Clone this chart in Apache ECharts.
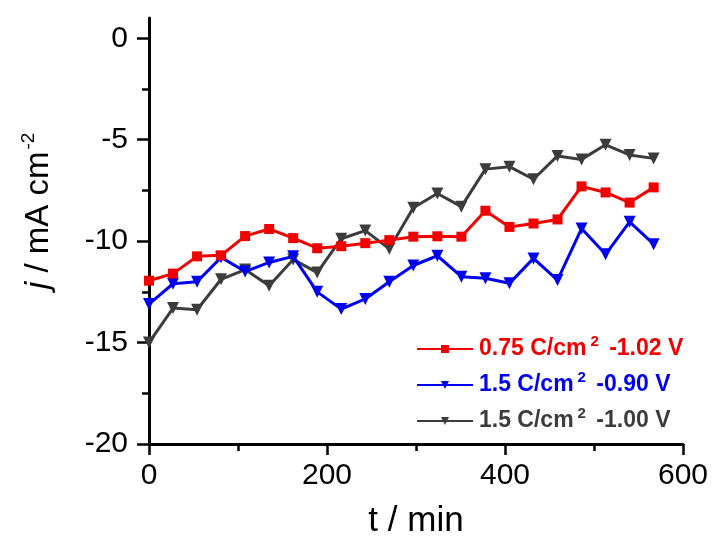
<!DOCTYPE html>
<html>
<head>
<meta charset="utf-8">
<script src="https://cdn.jsdelivr.net/npm/echarts@6/dist/echarts.min.js"></script>
<style>html,body{margin:0;padding:0;background:#fff}#c{width:713px;height:549px}</style>
</head>
<body>
<div id="c"></div>
<script>
var timeMin = [0, 27, 54, 81, 108, 135, 162, 189, 216, 243, 270, 297, 324, 351, 378, 405, 432, 459, 486, 513, 540, 567];
var seriesRed = [-11.95, -11.6, -10.75, -10.7, -9.75, -9.4, -9.85, -10.35, -10.25, -10.1, -9.95, -9.78, -9.76, -9.78, -8.5, -9.3, -9.13, -8.93, -7.3, -7.6, -8.1, -7.35];
var seriesBlue = [-13.1, -12.1, -12.0, -10.8, -11.5, -11.05, -10.75, -12.5, -13.35, -12.85, -12.0, -11.2, -10.72, -11.75, -11.83, -12.08, -10.85, -11.92, -9.38, -10.65, -9.05, -10.15];
var seriesGray = [-15.0, -13.3, -13.38, -11.88, -11.4, -12.2, -10.9, -11.55, -9.88, -9.48, -10.38, -8.35, -7.65, -8.3, -6.45, -6.33, -6.95, -5.8, -5.97, -5.25, -5.75, -5.92];
var seriesNames = ['0.75 C/cm2 -1.02 V', '1.5 C/cm2 -0.90 V', '1.5 C/cm2 -1.00 V'];
var yMajorTicks = [-20, -15, -10, -5, 0];
var yMinorTicks = [-17.5, -12.5, -7.5, -2.5];
var xTickLabels = [0, 200, 400, 600];

var FONT = '"Liberation Sans", Arial, sans-serif';
var colors = ['#f00000', '#0000f0', '#3c3c3c'];

function pairs(xs, ys) { return xs.map(function (x, i) { return [x, ys[i]]; }); }

var chart = echarts.init(document.getElementById('c'), null, {renderer: 'canvas'});
var option = {
  backgroundColor: '#fff',
  animation: false,
  grid: {left: 149, top: 18, right: 30, bottom: 105, containLabel: false, outerBoundsMode: 'none'},
  legend: {
    orient: 'vertical',
    left: 416,
    top: 334,
    padding: 0,
    itemWidth: 56,
    itemHeight: 10,
    itemGap: 6,
    lineStyle: {width: 2},
    selectedMode: false,
    data: seriesNames.map(function (n, i) { return {name: n, textStyle: {color: colors[i]}}; }),
    formatter: function (n) { return n.replace('cm2', 'cm{sup|2}'); },
    textStyle: {
      fontFamily: FONT, fontSize: 23, fontWeight: 'bold', lineHeight: 30, padding: [0, 0, 0, 1],
      rich: {sup: {fontFamily: FONT, fontSize: 15, fontWeight: 'bold', verticalAlign: 'top', lineHeight: 13, padding: [0, 4, 0, 4]}}
    }
  },
  xAxis: {
    type: 'value', min: 0, max: 600, interval: 200,
    name: 't / min', nameLocation: 'middle', nameGap: 60,
    nameTextStyle: {fontFamily: FONT, fontSize: 35, color: '#000'},
    axisLine: {onZero: false, lineStyle: {color: '#000', width: 3}},
    axisTick: {inside: false, length: 11, lineStyle: {color: '#000', width: 2.5}},
    minorTick: {show: true, splitNumber: 2, length: 7, lineStyle: {color: '#000', width: 2.5}},
    axisLabel: {fontFamily: FONT, fontSize: 30, color: '#000', margin: 17, customValues: xTickLabels},
    splitLine: {show: false}, minorSplitLine: {show: false}
  },
  yAxis: [{
    type: 'value', min: -20, max: 1, interval: 5, position: 'left',
    name: '{it|j} / mA cm{sup|-2}', nameLocation: 'middle', nameGap: 90,
    nameTextStyle: {
      fontFamily: FONT, fontSize: 33, color: '#000', padding: [0, 0, 0, 40],
      rich: {
        it: {fontFamily: FONT, fontSize: 34, fontStyle: 'italic', color: '#000', lineHeight: 40},
        sup: {fontFamily: FONT, fontSize: 19, color: '#000', verticalAlign: 'top', lineHeight: 40, padding: [0, 0, 0, 2]}
      }
    },
    axisLine: {onZero: false, lineStyle: {color: '#000', width: 3}},
    axisTick: {inside: false, length: 12, customValues: yMajorTicks, lineStyle: {color: '#000', width: 2.5}},
    axisLabel: {fontFamily: FONT, fontSize: 30, color: '#000', margin: 21, customValues: yMajorTicks},
    splitLine: {show: false}
  }, {
    type: 'value', min: -20, max: 1, interval: 5, position: 'left',
    axisLine: {show: false, onZero: false},
    axisTick: {show: true, inside: false, length: 7, customValues: yMinorTicks, lineStyle: {color: '#000', width: 2.5}},
    axisLabel: {show: false},
    splitLine: {show: false}
  }],
  series: [{
    name: seriesNames[0], type: 'line', data: pairs(timeMin, seriesRed),
    color: colors[0], lineStyle: {width: 3, color: colors[0]},
    symbol: 'rect', symbolSize: 10, itemStyle: {color: colors[0]}, z: 3
  }, {
    name: seriesNames[1], type: 'line', data: pairs(timeMin, seriesBlue),
    color: colors[1], lineStyle: {width: 3, color: colors[1]},
    symbol: 'triangle', symbolRotate: 180, symbolSize: 12, itemStyle: {color: colors[1]}, z: 2
  }, {
    name: seriesNames[2], type: 'line', data: pairs(timeMin, seriesGray),
    color: colors[2], lineStyle: {width: 3, color: colors[2]},
    symbol: 'triangle', symbolRotate: 180, symbolSize: 12, itemStyle: {color: colors[2]}, z: 1
  }]
};
chart.setOption(option);
</script>
</body>
</html>
